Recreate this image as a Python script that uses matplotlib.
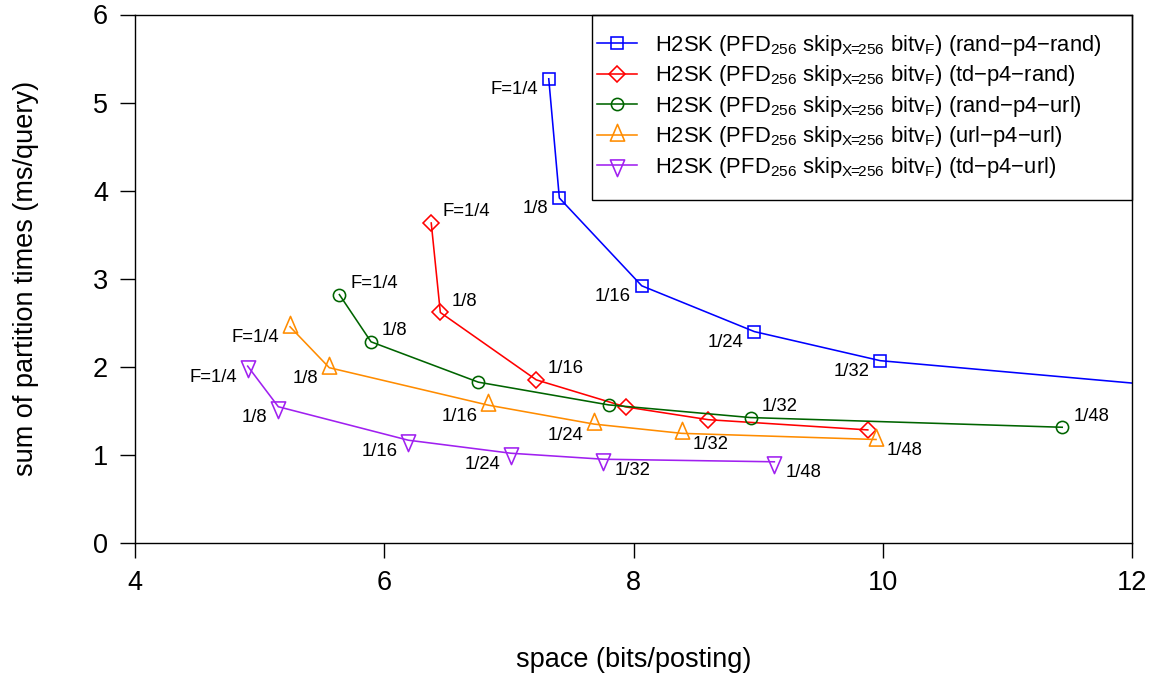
import matplotlib
matplotlib.use("Agg")
import matplotlib.pyplot as plt
from matplotlib.path import Path
from matplotlib.patches import Rectangle

plt.rcParams["font.family"] = ["Liberation Sans", "DejaVu Sans"]
plt.rcParams["mathtext.fontset"] = "custom"
plt.rcParams["mathtext.rm"] = "Liberation Sans"
plt.rcParams["mathtext.it"] = "Liberation Sans"
plt.rcParams["mathtext.bf"] = "Liberation Sans:bold"

# ---- data -------------------------------------------------------------
point_labels = ["F=1/4", "1/8", "1/16", "1/24", "1/32", "1/48"]

rand_rand_x = [7.32, 7.405, 8.066, 8.97, 9.98, 13.0]
rand_rand_y = [5.27, 3.917, 2.92, 2.40, 2.07, 1.69]

td_rand_x = [6.377, 6.45, 7.22, 7.937, 8.60, 9.88]
td_rand_y = [3.633, 2.617, 1.852, 1.545, 1.40, 1.284]

rand_url_x = [5.64, 5.894, 6.755, 7.80, 8.94, 11.44]
rand_url_y = [2.82, 2.284, 1.826, 1.568, 1.424, 1.314]

url_url_x = [5.244, 5.559, 6.835, 7.683, 8.386, 9.946]
url_url_y = [2.455, 1.99, 1.565, 1.35, 1.245, 1.175]

td_url_x = [4.904, 5.15, 6.193, 7.017, 7.758, 9.13]
td_url_y = [2.008, 1.547, 1.167, 1.019, 0.951, 0.922]

orders = ["rand\u2212p4\u2212rand", "td\u2212p4\u2212rand", "rand\u2212p4\u2212url",
          "url\u2212p4\u2212url", "td\u2212p4\u2212url"]

x_ticks = [4, 6, 8, 10, 12]
y_ticks = [0, 1, 2, 3, 4, 5, 6]

# ---- markers (R-style triangles centred on their centroid) -------------
tri_up = Path([(0, 1.555), (-1, -0.7776), (1, -0.7776), (0, 1.555)],
              [Path.MOVETO, Path.LINETO, Path.LINETO, Path.CLOSEPOLY])
tri_dn = Path([(0, -1.555), (-1, 0.7776), (1, 0.7776), (0, -1.555)],
              [Path.MOVETO, Path.LINETO, Path.LINETO, Path.CLOSEPOLY])

# per-series label placement: 'lb' left-below, 'ra' right-above, 'rb' right-below, None = no label
series = [
    dict(x=rand_rand_x, y=rand_rand_y, color="#0000FF", marker="s", ms=8.6,
         place=["lb", "lb", "lb", "lb", "lb", "lb"]),
    dict(x=td_rand_x, y=td_rand_y, color="#FF0000", marker="D", ms=8.0,
         place=["ra", "ra", "ra", None, None, None]),
    dict(x=rand_url_x, y=rand_url_y, color="#006400", marker="o", ms=8.8,
         place=["ra", "ra", None, None, "ra", "ra"]),
    dict(x=url_url_x, y=url_url_y, color="#FF8C00", marker=tri_up, ms=16.0,
         place=["lb", "lb", "lb", "lb", "rb", "rb"]),
    dict(x=td_url_x, y=td_url_y, color="#A020F0", marker=tri_dn, ms=16.0,
         place=["lb", "lb", "lb", "lb", "rb", "rb"]),
]

W, H = 1156, 679
fig = plt.figure(figsize=(W / 100, H / 100), dpi=100)
ax = fig.add_axes([135 / W, 136 / H, 997 / W, 528.5 / H])

px = 0.72  # points per pixel at 100 dpi
label_fs = 13.3
axis_fs = 19.5
for s, name in zip(series, orders):
    legend_label = ("H2SK (PFD$_{256}$ skip$_{\\mathrm{X\\!\\!=\\!\\!256}}$ bitv$_{\\mathrm{F}}$) (%s)"
                    % name)
    ax.plot(s["x"], s["y"], color=s["color"], lw=1.15, marker=s["marker"],
            ms=s["ms"], mfc="none", mec=s["color"], mew=1.15, label=legend_label)
    for xv, yv, txt, where in zip(s["x"], s["y"], point_labels, s["place"]):
        if where is None:
            continue
        dx = -11 if where[0] == "l" else 11
        dy = -11 if where[1] == "b" else 11
        ax.annotate(txt, (xv, yv), xytext=(dx * px, dy * px), textcoords="offset points",
                    ha="right" if where[0] == "l" else "left", va="center",
                    fontsize=label_fs, color="black", annotation_clip=True)

ax.set_xlim(4, 12)
ax.set_ylim(0, 6)
ax.set_xticks(x_ticks)
ax.set_yticks(y_ticks)
ax.set_xticklabels([str(t) for t in x_ticks])
ax.set_yticklabels([str(t) for t in y_ticks])
ax.tick_params(direction="out", length=15 * px, width=1.0, labelsize=axis_fs, pad=12 * px,
               color="black")
for sp in ax.spines.values():
    sp.set_linewidth(1.0)
    sp.set_color("black")

ax.set_xlabel("space (bits/posting)", fontsize=axis_fs)
ax.xaxis.set_label_coords(0.5, (543 - 660) / 528.5)
ax.xaxis.label.set_va("center")
ax.set_ylabel("sum of partition times (ms/query)", fontsize=axis_fs)
ax.yaxis.set_label_coords((26 - 135) / 997, 0.5)
ax.yaxis.label.set_va("center")

# legend box in the upper-right corner
x0 = (592 - 135) / 997
y0 = (543 - 200) / 528.5
ax.add_patch(Rectangle((x0, y0), 1 - x0, 1 - y0, transform=ax.transAxes,
                       fill=False, ec="black", lw=1.0, clip_on=False, zorder=5))
leg = ax.legend(loc="upper left", bbox_to_anchor=((597 - 135) / 997, (543 - 33) / 528.5),
                frameon=False, fontsize=15.8, borderpad=0, borderaxespad=0,
                handlelength=40 / 22, handletextpad=18 / 22, labelspacing=0.25)

fig.savefig("out.png", dpi=100)
